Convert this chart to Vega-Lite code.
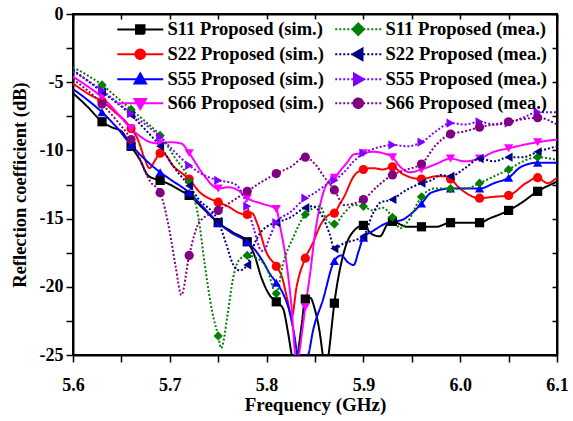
{
  "$schema": "https://vega.github.io/schema/vega-lite/v6.json",
  "width": 484,
  "height": 341,
  "autosize": {"type": "none"},
  "padding": {"left": 73, "top": 14, "right": 16, "bottom": 66},
  "background": "white",
  "data": {"values": [
    {"s":"S11 Proposed (sim.)","f":5.600,"v":-5.8,"mk":0},
    {"s":"S11 Proposed (sim.)","f":5.615,"v":-6.8,"mk":0},
    {"s":"S11 Proposed (sim.)","f":5.630,"v":-7.9,"mk":1},
    {"s":"S11 Proposed (sim.)","f":5.640,"v":-8.3,"mk":0},
    {"s":"S11 Proposed (sim.)","f":5.650,"v":-8.6,"mk":0},
    {"s":"S11 Proposed (sim.)","f":5.660,"v":-9.7,"mk":1},
    {"s":"S11 Proposed (sim.)","f":5.670,"v":-10.8,"mk":0},
    {"s":"S11 Proposed (sim.)","f":5.677,"v":-11.8,"mk":0},
    {"s":"S11 Proposed (sim.)","f":5.685,"v":-12.1,"mk":0},
    {"s":"S11 Proposed (sim.)","f":5.690,"v":-12.2,"mk":1},
    {"s":"S11 Proposed (sim.)","f":5.700,"v":-12.5,"mk":0},
    {"s":"S11 Proposed (sim.)","f":5.710,"v":-12.9,"mk":0},
    {"s":"S11 Proposed (sim.)","f":5.720,"v":-13.3,"mk":1},
    {"s":"S11 Proposed (sim.)","f":5.735,"v":-14.3,"mk":0},
    {"s":"S11 Proposed (sim.)","f":5.750,"v":-15.3,"mk":1},
    {"s":"S11 Proposed (sim.)","f":5.765,"v":-16.0,"mk":0},
    {"s":"S11 Proposed (sim.)","f":5.780,"v":-16.7,"mk":1},
    {"s":"S11 Proposed (sim.)","f":5.787,"v":-17.6,"mk":0},
    {"s":"S11 Proposed (sim.)","f":5.795,"v":-19.4,"mk":0},
    {"s":"S11 Proposed (sim.)","f":5.803,"v":-20.6,"mk":0},
    {"s":"S11 Proposed (sim.)","f":5.810,"v":-21.1,"mk":1},
    {"s":"S11 Proposed (sim.)","f":5.817,"v":-21.6,"mk":0},
    {"s":"S11 Proposed (sim.)","f":5.822,"v":-23.3,"mk":0},
    {"s":"S11 Proposed (sim.)","f":5.826,"v":-25.0,"mk":0},
    {"s":"S11 Proposed (sim.)","f":5.829,"v":-26.0,"mk":0},
    {"s":"S11 Proposed (sim.)","f":5.832,"v":-25.0,"mk":0},
    {"s":"S11 Proposed (sim.)","f":5.836,"v":-22.9,"mk":0},
    {"s":"S11 Proposed (sim.)","f":5.840,"v":-20.9,"mk":1},
    {"s":"S11 Proposed (sim.)","f":5.845,"v":-20.8,"mk":0},
    {"s":"S11 Proposed (sim.)","f":5.850,"v":-21.7,"mk":0},
    {"s":"S11 Proposed (sim.)","f":5.855,"v":-23.4,"mk":0},
    {"s":"S11 Proposed (sim.)","f":5.858,"v":-25.0,"mk":0},
    {"s":"S11 Proposed (sim.)","f":5.861,"v":-26.5,"mk":0},
    {"s":"S11 Proposed (sim.)","f":5.864,"v":-25.0,"mk":0},
    {"s":"S11 Proposed (sim.)","f":5.870,"v":-21.2,"mk":1},
    {"s":"S11 Proposed (sim.)","f":5.879,"v":-17.7,"mk":0},
    {"s":"S11 Proposed (sim.)","f":5.886,"v":-16.3,"mk":0},
    {"s":"S11 Proposed (sim.)","f":5.900,"v":-15.5,"mk":1},
    {"s":"S11 Proposed (sim.)","f":5.908,"v":-16.1,"mk":0},
    {"s":"S11 Proposed (sim.)","f":5.917,"v":-16.3,"mk":0},
    {"s":"S11 Proposed (sim.)","f":5.925,"v":-15.4,"mk":0},
    {"s":"S11 Proposed (sim.)","f":5.930,"v":-15.2,"mk":1},
    {"s":"S11 Proposed (sim.)","f":5.945,"v":-15.6,"mk":0},
    {"s":"S11 Proposed (sim.)","f":5.960,"v":-15.6,"mk":1},
    {"s":"S11 Proposed (sim.)","f":5.975,"v":-15.6,"mk":0},
    {"s":"S11 Proposed (sim.)","f":5.990,"v":-15.3,"mk":1},
    {"s":"S11 Proposed (sim.)","f":6.005,"v":-15.3,"mk":0},
    {"s":"S11 Proposed (sim.)","f":6.020,"v":-15.3,"mk":1},
    {"s":"S11 Proposed (sim.)","f":6.030,"v":-15.0,"mk":0},
    {"s":"S11 Proposed (sim.)","f":6.050,"v":-14.4,"mk":1},
    {"s":"S11 Proposed (sim.)","f":6.062,"v":-13.9,"mk":0},
    {"s":"S11 Proposed (sim.)","f":6.080,"v":-13.0,"mk":1},
    {"s":"S11 Proposed (sim.)","f":6.100,"v":-12.3,"mk":0},

    {"s":"S22 Proposed (sim.)","f":5.600,"v":-5.1,"mk":0},
    {"s":"S22 Proposed (sim.)","f":5.617,"v":-5.9,"mk":0},
    {"s":"S22 Proposed (sim.)","f":5.630,"v":-6.4,"mk":1},
    {"s":"S22 Proposed (sim.)","f":5.645,"v":-7.3,"mk":0},
    {"s":"S22 Proposed (sim.)","f":5.657,"v":-8.1,"mk":0},
    {"s":"S22 Proposed (sim.)","f":5.660,"v":-8.4,"mk":1},
    {"s":"S22 Proposed (sim.)","f":5.667,"v":-9.2,"mk":0},
    {"s":"S22 Proposed (sim.)","f":5.674,"v":-10.6,"mk":0},
    {"s":"S22 Proposed (sim.)","f":5.679,"v":-11.3,"mk":0},
    {"s":"S22 Proposed (sim.)","f":5.685,"v":-10.7,"mk":0},
    {"s":"S22 Proposed (sim.)","f":5.690,"v":-10.2,"mk":1},
    {"s":"S22 Proposed (sim.)","f":5.695,"v":-10.3,"mk":0},
    {"s":"S22 Proposed (sim.)","f":5.703,"v":-11.1,"mk":0},
    {"s":"S22 Proposed (sim.)","f":5.713,"v":-11.7,"mk":0},
    {"s":"S22 Proposed (sim.)","f":5.720,"v":-12.1,"mk":1},
    {"s":"S22 Proposed (sim.)","f":5.730,"v":-13.0,"mk":0},
    {"s":"S22 Proposed (sim.)","f":5.750,"v":-13.8,"mk":1},
    {"s":"S22 Proposed (sim.)","f":5.760,"v":-14.1,"mk":0},
    {"s":"S22 Proposed (sim.)","f":5.772,"v":-14.6,"mk":0},
    {"s":"S22 Proposed (sim.)","f":5.780,"v":-14.7,"mk":1},
    {"s":"S22 Proposed (sim.)","f":5.785,"v":-14.6,"mk":0},
    {"s":"S22 Proposed (sim.)","f":5.790,"v":-15.3,"mk":0},
    {"s":"S22 Proposed (sim.)","f":5.800,"v":-17.5,"mk":0},
    {"s":"S22 Proposed (sim.)","f":5.810,"v":-18.5,"mk":1},
    {"s":"S22 Proposed (sim.)","f":5.816,"v":-19.3,"mk":0},
    {"s":"S22 Proposed (sim.)","f":5.821,"v":-20.8,"mk":0},
    {"s":"S22 Proposed (sim.)","f":5.826,"v":-22.2,"mk":0},
    {"s":"S22 Proposed (sim.)","f":5.831,"v":-20.0,"mk":0},
    {"s":"S22 Proposed (sim.)","f":5.840,"v":-17.9,"mk":1},
    {"s":"S22 Proposed (sim.)","f":5.847,"v":-16.9,"mk":0},
    {"s":"S22 Proposed (sim.)","f":5.857,"v":-15.3,"mk":0},
    {"s":"S22 Proposed (sim.)","f":5.865,"v":-14.7,"mk":0},
    {"s":"S22 Proposed (sim.)","f":5.870,"v":-14.6,"mk":1},
    {"s":"S22 Proposed (sim.)","f":5.875,"v":-14.0,"mk":0},
    {"s":"S22 Proposed (sim.)","f":5.880,"v":-13.4,"mk":0},
    {"s":"S22 Proposed (sim.)","f":5.890,"v":-11.9,"mk":0},
    {"s":"S22 Proposed (sim.)","f":5.900,"v":-11.4,"mk":1},
    {"s":"S22 Proposed (sim.)","f":5.910,"v":-11.3,"mk":0},
    {"s":"S22 Proposed (sim.)","f":5.920,"v":-11.4,"mk":0},
    {"s":"S22 Proposed (sim.)","f":5.930,"v":-11.2,"mk":1},
    {"s":"S22 Proposed (sim.)","f":5.940,"v":-11.7,"mk":0},
    {"s":"S22 Proposed (sim.)","f":5.950,"v":-12.0,"mk":0},
    {"s":"S22 Proposed (sim.)","f":5.960,"v":-12.1,"mk":1},
    {"s":"S22 Proposed (sim.)","f":5.975,"v":-11.9,"mk":0},
    {"s":"S22 Proposed (sim.)","f":5.985,"v":-11.9,"mk":0},
    {"s":"S22 Proposed (sim.)","f":5.990,"v":-12.1,"mk":1},
    {"s":"S22 Proposed (sim.)","f":6.000,"v":-12.8,"mk":0},
    {"s":"S22 Proposed (sim.)","f":6.020,"v":-13.5,"mk":1},
    {"s":"S22 Proposed (sim.)","f":6.035,"v":-13.4,"mk":0},
    {"s":"S22 Proposed (sim.)","f":6.050,"v":-13.3,"mk":1},
    {"s":"S22 Proposed (sim.)","f":6.068,"v":-12.4,"mk":0},
    {"s":"S22 Proposed (sim.)","f":6.080,"v":-12.0,"mk":1},
    {"s":"S22 Proposed (sim.)","f":6.090,"v":-12.4,"mk":0},
    {"s":"S22 Proposed (sim.)","f":6.100,"v":-12.0,"mk":0},

    {"s":"S55 Proposed (sim.)","f":5.600,"v":-5.5,"mk":0},
    {"s":"S55 Proposed (sim.)","f":5.615,"v":-6.3,"mk":0},
    {"s":"S55 Proposed (sim.)","f":5.630,"v":-7.2,"mk":1},
    {"s":"S55 Proposed (sim.)","f":5.645,"v":-8.3,"mk":0},
    {"s":"S55 Proposed (sim.)","f":5.660,"v":-9.6,"mk":1},
    {"s":"S55 Proposed (sim.)","f":5.675,"v":-10.7,"mk":0},
    {"s":"S55 Proposed (sim.)","f":5.690,"v":-11.6,"mk":1},
    {"s":"S55 Proposed (sim.)","f":5.700,"v":-12.1,"mk":0},
    {"s":"S55 Proposed (sim.)","f":5.720,"v":-13.1,"mk":1},
    {"s":"S55 Proposed (sim.)","f":5.735,"v":-14.2,"mk":0},
    {"s":"S55 Proposed (sim.)","f":5.750,"v":-15.3,"mk":1},
    {"s":"S55 Proposed (sim.)","f":5.765,"v":-16.1,"mk":0},
    {"s":"S55 Proposed (sim.)","f":5.780,"v":-16.7,"mk":1},
    {"s":"S55 Proposed (sim.)","f":5.795,"v":-18.0,"mk":0},
    {"s":"S55 Proposed (sim.)","f":5.803,"v":-19.0,"mk":0},
    {"s":"S55 Proposed (sim.)","f":5.810,"v":-19.7,"mk":1},
    {"s":"S55 Proposed (sim.)","f":5.817,"v":-20.5,"mk":0},
    {"s":"S55 Proposed (sim.)","f":5.824,"v":-21.9,"mk":0},
    {"s":"S55 Proposed (sim.)","f":5.829,"v":-23.7,"mk":0},
    {"s":"S55 Proposed (sim.)","f":5.832,"v":-25.0,"mk":0},
    {"s":"S55 Proposed (sim.)","f":5.838,"v":-25.5,"mk":0},
    {"s":"S55 Proposed (sim.)","f":5.843,"v":-25.0,"mk":0},
    {"s":"S55 Proposed (sim.)","f":5.848,"v":-23.2,"mk":0},
    {"s":"S55 Proposed (sim.)","f":5.858,"v":-21.0,"mk":0},
    {"s":"S55 Proposed (sim.)","f":5.870,"v":-18.1,"mk":1},
    {"s":"S55 Proposed (sim.)","f":5.877,"v":-17.7,"mk":0},
    {"s":"S55 Proposed (sim.)","f":5.884,"v":-18.2,"mk":0},
    {"s":"S55 Proposed (sim.)","f":5.890,"v":-18.4,"mk":0},
    {"s":"S55 Proposed (sim.)","f":5.895,"v":-17.4,"mk":0},
    {"s":"S55 Proposed (sim.)","f":5.900,"v":-16.4,"mk":1},
    {"s":"S55 Proposed (sim.)","f":5.910,"v":-15.9,"mk":0},
    {"s":"S55 Proposed (sim.)","f":5.925,"v":-15.3,"mk":0},
    {"s":"S55 Proposed (sim.)","f":5.940,"v":-15.1,"mk":0},
    {"s":"S55 Proposed (sim.)","f":5.950,"v":-14.6,"mk":0},
    {"s":"S55 Proposed (sim.)","f":5.960,"v":-13.9,"mk":1},
    {"s":"S55 Proposed (sim.)","f":5.970,"v":-13.1,"mk":0},
    {"s":"S55 Proposed (sim.)","f":5.990,"v":-12.8,"mk":1},
    {"s":"S55 Proposed (sim.)","f":6.005,"v":-12.8,"mk":0},
    {"s":"S55 Proposed (sim.)","f":6.020,"v":-12.8,"mk":1},
    {"s":"S55 Proposed (sim.)","f":6.035,"v":-12.4,"mk":0},
    {"s":"S55 Proposed (sim.)","f":6.050,"v":-12.0,"mk":1},
    {"s":"S55 Proposed (sim.)","f":6.063,"v":-11.2,"mk":0},
    {"s":"S55 Proposed (sim.)","f":6.080,"v":-10.9,"mk":1},
    {"s":"S55 Proposed (sim.)","f":6.100,"v":-10.9,"mk":0},

    {"s":"S66 Proposed (sim.)","f":5.600,"v":-4.6,"mk":0},
    {"s":"S66 Proposed (sim.)","f":5.615,"v":-5.3,"mk":0},
    {"s":"S66 Proposed (sim.)","f":5.630,"v":-6.1,"mk":1},
    {"s":"S66 Proposed (sim.)","f":5.645,"v":-7.2,"mk":0},
    {"s":"S66 Proposed (sim.)","f":5.660,"v":-8.4,"mk":1},
    {"s":"S66 Proposed (sim.)","f":5.672,"v":-9.1,"mk":0},
    {"s":"S66 Proposed (sim.)","f":5.680,"v":-9.4,"mk":0},
    {"s":"S66 Proposed (sim.)","f":5.690,"v":-9.5,"mk":1},
    {"s":"S66 Proposed (sim.)","f":5.700,"v":-9.4,"mk":0},
    {"s":"S66 Proposed (sim.)","f":5.712,"v":-9.5,"mk":0},
    {"s":"S66 Proposed (sim.)","f":5.720,"v":-10.2,"mk":1},
    {"s":"S66 Proposed (sim.)","f":5.735,"v":-11.8,"mk":0},
    {"s":"S66 Proposed (sim.)","f":5.750,"v":-12.8,"mk":1},
    {"s":"S66 Proposed (sim.)","f":5.760,"v":-12.7,"mk":0},
    {"s":"S66 Proposed (sim.)","f":5.770,"v":-12.9,"mk":0},
    {"s":"S66 Proposed (sim.)","f":5.780,"v":-13.5,"mk":1},
    {"s":"S66 Proposed (sim.)","f":5.795,"v":-13.9,"mk":0},
    {"s":"S66 Proposed (sim.)","f":5.810,"v":-14.3,"mk":1},
    {"s":"S66 Proposed (sim.)","f":5.814,"v":-15.6,"mk":0},
    {"s":"S66 Proposed (sim.)","f":5.821,"v":-18.5,"mk":0},
    {"s":"S66 Proposed (sim.)","f":5.826,"v":-21.7,"mk":0},
    {"s":"S66 Proposed (sim.)","f":5.8295,"v":-25.0,"mk":0},
    {"s":"S66 Proposed (sim.)","f":5.8315,"v":-26.0,"mk":0},
    {"s":"S66 Proposed (sim.)","f":5.8335,"v":-25.0,"mk":0},
    {"s":"S66 Proposed (sim.)","f":5.840,"v":-21.5,"mk":1},
    {"s":"S66 Proposed (sim.)","f":5.845,"v":-19.0,"mk":0},
    {"s":"S66 Proposed (sim.)","f":5.850,"v":-16.1,"mk":0},
    {"s":"S66 Proposed (sim.)","f":5.855,"v":-14.1,"mk":0},
    {"s":"S66 Proposed (sim.)","f":5.860,"v":-12.8,"mk":0},
    {"s":"S66 Proposed (sim.)","f":5.865,"v":-12.2,"mk":0},
    {"s":"S66 Proposed (sim.)","f":5.870,"v":-12.0,"mk":1},
    {"s":"S66 Proposed (sim.)","f":5.876,"v":-11.5,"mk":0},
    {"s":"S66 Proposed (sim.)","f":5.883,"v":-10.9,"mk":0},
    {"s":"S66 Proposed (sim.)","f":5.890,"v":-10.3,"mk":0},
    {"s":"S66 Proposed (sim.)","f":5.900,"v":-10.2,"mk":1},
    {"s":"S66 Proposed (sim.)","f":5.910,"v":-10.1,"mk":0},
    {"s":"S66 Proposed (sim.)","f":5.920,"v":-10.2,"mk":0},
    {"s":"S66 Proposed (sim.)","f":5.930,"v":-10.5,"mk":1},
    {"s":"S66 Proposed (sim.)","f":5.938,"v":-11.2,"mk":0},
    {"s":"S66 Proposed (sim.)","f":5.948,"v":-11.6,"mk":0},
    {"s":"S66 Proposed (sim.)","f":5.960,"v":-11.4,"mk":1},
    {"s":"S66 Proposed (sim.)","f":5.975,"v":-11.0,"mk":0},
    {"s":"S66 Proposed (sim.)","f":5.990,"v":-10.6,"mk":1},
    {"s":"S66 Proposed (sim.)","f":6.005,"v":-10.8,"mk":0},
    {"s":"S66 Proposed (sim.)","f":6.020,"v":-10.6,"mk":1},
    {"s":"S66 Proposed (sim.)","f":6.035,"v":-10.1,"mk":0},
    {"s":"S66 Proposed (sim.)","f":6.050,"v":-9.85,"mk":1},
    {"s":"S66 Proposed (sim.)","f":6.065,"v":-9.6,"mk":0},
    {"s":"S66 Proposed (sim.)","f":6.080,"v":-9.4,"mk":1},
    {"s":"S66 Proposed (sim.)","f":6.100,"v":-9.2,"mk":0},

    {"s":"S11 Proposed (mea.)","f":5.600,"v":-3.9,"mk":0},
    {"s":"S11 Proposed (mea.)","f":5.615,"v":-4.5,"mk":0},
    {"s":"S11 Proposed (mea.)","f":5.630,"v":-5.2,"mk":1},
    {"s":"S11 Proposed (mea.)","f":5.645,"v":-6.1,"mk":0},
    {"s":"S11 Proposed (mea.)","f":5.660,"v":-7.0,"mk":1},
    {"s":"S11 Proposed (mea.)","f":5.675,"v":-7.9,"mk":0},
    {"s":"S11 Proposed (mea.)","f":5.690,"v":-8.9,"mk":1},
    {"s":"S11 Proposed (mea.)","f":5.705,"v":-10.5,"mk":0},
    {"s":"S11 Proposed (mea.)","f":5.720,"v":-12.3,"mk":1},
    {"s":"S11 Proposed (mea.)","f":5.730,"v":-15.1,"mk":0},
    {"s":"S11 Proposed (mea.)","f":5.736,"v":-18.3,"mk":0},
    {"s":"S11 Proposed (mea.)","f":5.744,"v":-21.9,"mk":0},
    {"s":"S11 Proposed (mea.)","f":5.750,"v":-23.6,"mk":1},
    {"s":"S11 Proposed (mea.)","f":5.753,"v":-24.5,"mk":0},
    {"s":"S11 Proposed (mea.)","f":5.760,"v":-21.9,"mk":0},
    {"s":"S11 Proposed (mea.)","f":5.765,"v":-19.5,"mk":0},
    {"s":"S11 Proposed (mea.)","f":5.772,"v":-18.0,"mk":0},
    {"s":"S11 Proposed (mea.)","f":5.780,"v":-17.7,"mk":1},
    {"s":"S11 Proposed (mea.)","f":5.790,"v":-17.9,"mk":0},
    {"s":"S11 Proposed (mea.)","f":5.800,"v":-18.6,"mk":0},
    {"s":"S11 Proposed (mea.)","f":5.810,"v":-20.5,"mk":1},
    {"s":"S11 Proposed (mea.)","f":5.817,"v":-18.3,"mk":0},
    {"s":"S11 Proposed (mea.)","f":5.828,"v":-16.3,"mk":0},
    {"s":"S11 Proposed (mea.)","f":5.840,"v":-14.7,"mk":1},
    {"s":"S11 Proposed (mea.)","f":5.855,"v":-14.1,"mk":0},
    {"s":"S11 Proposed (mea.)","f":5.862,"v":-15.1,"mk":0},
    {"s":"S11 Proposed (mea.)","f":5.870,"v":-15.4,"mk":1},
    {"s":"S11 Proposed (mea.)","f":5.880,"v":-14.6,"mk":0},
    {"s":"S11 Proposed (mea.)","f":5.890,"v":-14.0,"mk":0},
    {"s":"S11 Proposed (mea.)","f":5.900,"v":-14.1,"mk":1},
    {"s":"S11 Proposed (mea.)","f":5.910,"v":-14.4,"mk":0},
    {"s":"S11 Proposed (mea.)","f":5.920,"v":-14.2,"mk":0},
    {"s":"S11 Proposed (mea.)","f":5.930,"v":-14.9,"mk":1},
    {"s":"S11 Proposed (mea.)","f":5.938,"v":-15.7,"mk":0},
    {"s":"S11 Proposed (mea.)","f":5.945,"v":-15.3,"mk":0},
    {"s":"S11 Proposed (mea.)","f":5.960,"v":-13.4,"mk":1},
    {"s":"S11 Proposed (mea.)","f":5.973,"v":-12.8,"mk":0},
    {"s":"S11 Proposed (mea.)","f":5.990,"v":-12.8,"mk":1},
    {"s":"S11 Proposed (mea.)","f":6.005,"v":-12.8,"mk":0},
    {"s":"S11 Proposed (mea.)","f":6.020,"v":-12.4,"mk":1},
    {"s":"S11 Proposed (mea.)","f":6.035,"v":-11.9,"mk":0},
    {"s":"S11 Proposed (mea.)","f":6.050,"v":-11.4,"mk":1},
    {"s":"S11 Proposed (mea.)","f":6.065,"v":-10.8,"mk":0},
    {"s":"S11 Proposed (mea.)","f":6.080,"v":-10.5,"mk":1},
    {"s":"S11 Proposed (mea.)","f":6.100,"v":-10.7,"mk":0},

    {"s":"S22 Proposed (mea.)","f":5.600,"v":-4.1,"mk":0},
    {"s":"S22 Proposed (mea.)","f":5.630,"v":-5.7,"mk":1},
    {"s":"S22 Proposed (mea.)","f":5.660,"v":-7.4,"mk":1},
    {"s":"S22 Proposed (mea.)","f":5.675,"v":-8.5,"mk":0},
    {"s":"S22 Proposed (mea.)","f":5.690,"v":-9.7,"mk":1},
    {"s":"S22 Proposed (mea.)","f":5.705,"v":-11.3,"mk":0},
    {"s":"S22 Proposed (mea.)","f":5.720,"v":-12.6,"mk":1},
    {"s":"S22 Proposed (mea.)","f":5.730,"v":-13.6,"mk":0},
    {"s":"S22 Proposed (mea.)","f":5.750,"v":-15.2,"mk":1},
    {"s":"S22 Proposed (mea.)","f":5.758,"v":-16.8,"mk":0},
    {"s":"S22 Proposed (mea.)","f":5.765,"v":-18.3,"mk":0},
    {"s":"S22 Proposed (mea.)","f":5.772,"v":-18.8,"mk":0},
    {"s":"S22 Proposed (mea.)","f":5.780,"v":-18.4,"mk":1},
    {"s":"S22 Proposed (mea.)","f":5.786,"v":-17.1,"mk":0},
    {"s":"S22 Proposed (mea.)","f":5.793,"v":-16.1,"mk":0},
    {"s":"S22 Proposed (mea.)","f":5.800,"v":-15.6,"mk":0},
    {"s":"S22 Proposed (mea.)","f":5.810,"v":-15.3,"mk":1},
    {"s":"S22 Proposed (mea.)","f":5.825,"v":-14.9,"mk":0},
    {"s":"S22 Proposed (mea.)","f":5.840,"v":-14.2,"mk":1},
    {"s":"S22 Proposed (mea.)","f":5.848,"v":-14.1,"mk":0},
    {"s":"S22 Proposed (mea.)","f":5.858,"v":-14.9,"mk":0},
    {"s":"S22 Proposed (mea.)","f":5.865,"v":-16.1,"mk":0},
    {"s":"S22 Proposed (mea.)","f":5.870,"v":-17.2,"mk":1},
    {"s":"S22 Proposed (mea.)","f":5.880,"v":-16.8,"mk":0},
    {"s":"S22 Proposed (mea.)","f":5.890,"v":-16.6,"mk":0},
    {"s":"S22 Proposed (mea.)","f":5.900,"v":-16.3,"mk":1},
    {"s":"S22 Proposed (mea.)","f":5.910,"v":-14.6,"mk":0},
    {"s":"S22 Proposed (mea.)","f":5.918,"v":-13.8,"mk":0},
    {"s":"S22 Proposed (mea.)","f":5.930,"v":-13.6,"mk":1},
    {"s":"S22 Proposed (mea.)","f":5.940,"v":-13.1,"mk":0},
    {"s":"S22 Proposed (mea.)","f":5.950,"v":-12.7,"mk":0},
    {"s":"S22 Proposed (mea.)","f":5.960,"v":-12.4,"mk":1},
    {"s":"S22 Proposed (mea.)","f":5.970,"v":-12.2,"mk":0},
    {"s":"S22 Proposed (mea.)","f":5.980,"v":-11.8,"mk":0},
    {"s":"S22 Proposed (mea.)","f":5.990,"v":-11.9,"mk":1},
    {"s":"S22 Proposed (mea.)","f":6.005,"v":-11.3,"mk":0},
    {"s":"S22 Proposed (mea.)","f":6.020,"v":-10.6,"mk":1},
    {"s":"S22 Proposed (mea.)","f":6.035,"v":-10.8,"mk":0},
    {"s":"S22 Proposed (mea.)","f":6.050,"v":-10.5,"mk":1},
    {"s":"S22 Proposed (mea.)","f":6.065,"v":-10.5,"mk":0},
    {"s":"S22 Proposed (mea.)","f":6.080,"v":-10.1,"mk":1},
    {"s":"S22 Proposed (mea.)","f":6.100,"v":-9.7,"mk":0},

    {"s":"S55 Proposed (mea.)","f":5.600,"v":-4.2,"mk":0},
    {"s":"S55 Proposed (mea.)","f":5.630,"v":-5.6,"mk":1},
    {"s":"S55 Proposed (mea.)","f":5.660,"v":-7.3,"mk":1},
    {"s":"S55 Proposed (mea.)","f":5.690,"v":-9.0,"mk":1},
    {"s":"S55 Proposed (mea.)","f":5.705,"v":-10.1,"mk":0},
    {"s":"S55 Proposed (mea.)","f":5.720,"v":-11.1,"mk":1},
    {"s":"S55 Proposed (mea.)","f":5.735,"v":-11.8,"mk":0},
    {"s":"S55 Proposed (mea.)","f":5.750,"v":-12.2,"mk":1},
    {"s":"S55 Proposed (mea.)","f":5.765,"v":-12.4,"mk":0},
    {"s":"S55 Proposed (mea.)","f":5.772,"v":-12.8,"mk":0},
    {"s":"S55 Proposed (mea.)","f":5.780,"v":-14.1,"mk":1},
    {"s":"S55 Proposed (mea.)","f":5.787,"v":-15.8,"mk":0},
    {"s":"S55 Proposed (mea.)","f":5.794,"v":-17.3,"mk":0},
    {"s":"S55 Proposed (mea.)","f":5.797,"v":-17.4,"mk":0},
    {"s":"S55 Proposed (mea.)","f":5.803,"v":-16.4,"mk":0},
    {"s":"S55 Proposed (mea.)","f":5.810,"v":-15.3,"mk":1},
    {"s":"S55 Proposed (mea.)","f":5.825,"v":-14.5,"mk":0},
    {"s":"S55 Proposed (mea.)","f":5.840,"v":-13.5,"mk":1},
    {"s":"S55 Proposed (mea.)","f":5.850,"v":-13.1,"mk":0},
    {"s":"S55 Proposed (mea.)","f":5.860,"v":-12.6,"mk":0},
    {"s":"S55 Proposed (mea.)","f":5.870,"v":-12.2,"mk":1},
    {"s":"S55 Proposed (mea.)","f":5.880,"v":-11.6,"mk":0},
    {"s":"S55 Proposed (mea.)","f":5.890,"v":-10.8,"mk":0},
    {"s":"S55 Proposed (mea.)","f":5.900,"v":-10.2,"mk":1},
    {"s":"S55 Proposed (mea.)","f":5.910,"v":-9.9,"mk":0},
    {"s":"S55 Proposed (mea.)","f":5.920,"v":-9.7,"mk":0},
    {"s":"S55 Proposed (mea.)","f":5.930,"v":-9.6,"mk":1},
    {"s":"S55 Proposed (mea.)","f":5.945,"v":-9.7,"mk":0},
    {"s":"S55 Proposed (mea.)","f":5.960,"v":-9.4,"mk":1},
    {"s":"S55 Proposed (mea.)","f":5.975,"v":-8.6,"mk":0},
    {"s":"S55 Proposed (mea.)","f":5.990,"v":-8.0,"mk":1},
    {"s":"S55 Proposed (mea.)","f":6.005,"v":-8.1,"mk":0},
    {"s":"S55 Proposed (mea.)","f":6.020,"v":-7.9,"mk":1},
    {"s":"S55 Proposed (mea.)","f":6.035,"v":-8.1,"mk":0},
    {"s":"S55 Proposed (mea.)","f":6.050,"v":-8.0,"mk":1},
    {"s":"S55 Proposed (mea.)","f":6.065,"v":-7.6,"mk":0},
    {"s":"S55 Proposed (mea.)","f":6.080,"v":-7.2,"mk":1},
    {"s":"S55 Proposed (mea.)","f":6.100,"v":-7.2,"mk":0},

    {"s":"S66 Proposed (mea.)","f":5.600,"v":-4.8,"mk":0},
    {"s":"S66 Proposed (mea.)","f":5.615,"v":-5.6,"mk":0},
    {"s":"S66 Proposed (mea.)","f":5.630,"v":-6.6,"mk":1},
    {"s":"S66 Proposed (mea.)","f":5.645,"v":-7.8,"mk":0},
    {"s":"S66 Proposed (mea.)","f":5.660,"v":-9.2,"mk":1},
    {"s":"S66 Proposed (mea.)","f":5.680,"v":-12.3,"mk":0},
    {"s":"S66 Proposed (mea.)","f":5.690,"v":-13.1,"mk":1},
    {"s":"S66 Proposed (mea.)","f":5.700,"v":-16.0,"mk":0},
    {"s":"S66 Proposed (mea.)","f":5.706,"v":-18.5,"mk":0},
    {"s":"S66 Proposed (mea.)","f":5.712,"v":-20.6,"mk":0},
    {"s":"S66 Proposed (mea.)","f":5.720,"v":-17.7,"mk":1},
    {"s":"S66 Proposed (mea.)","f":5.731,"v":-15.2,"mk":0},
    {"s":"S66 Proposed (mea.)","f":5.750,"v":-14.4,"mk":1},
    {"s":"S66 Proposed (mea.)","f":5.765,"v":-13.7,"mk":0},
    {"s":"S66 Proposed (mea.)","f":5.780,"v":-13.0,"mk":1},
    {"s":"S66 Proposed (mea.)","f":5.795,"v":-12.3,"mk":0},
    {"s":"S66 Proposed (mea.)","f":5.810,"v":-11.7,"mk":1},
    {"s":"S66 Proposed (mea.)","f":5.825,"v":-11.2,"mk":0},
    {"s":"S66 Proposed (mea.)","f":5.840,"v":-10.5,"mk":1},
    {"s":"S66 Proposed (mea.)","f":5.850,"v":-11.0,"mk":0},
    {"s":"S66 Proposed (mea.)","f":5.860,"v":-12.0,"mk":0},
    {"s":"S66 Proposed (mea.)","f":5.870,"v":-12.9,"mk":1},
    {"s":"S66 Proposed (mea.)","f":5.880,"v":-14.0,"mk":0},
    {"s":"S66 Proposed (mea.)","f":5.890,"v":-13.9,"mk":0},
    {"s":"S66 Proposed (mea.)","f":5.900,"v":-13.6,"mk":1},
    {"s":"S66 Proposed (mea.)","f":5.915,"v":-12.6,"mk":0},
    {"s":"S66 Proposed (mea.)","f":5.930,"v":-11.8,"mk":1},
    {"s":"S66 Proposed (mea.)","f":5.945,"v":-11.4,"mk":0},
    {"s":"S66 Proposed (mea.)","f":5.960,"v":-11.0,"mk":1},
    {"s":"S66 Proposed (mea.)","f":5.975,"v":-9.6,"mk":0},
    {"s":"S66 Proposed (mea.)","f":5.990,"v":-8.8,"mk":1},
    {"s":"S66 Proposed (mea.)","f":6.005,"v":-8.6,"mk":0},
    {"s":"S66 Proposed (mea.)","f":6.020,"v":-8.3,"mk":1},
    {"s":"S66 Proposed (mea.)","f":6.035,"v":-8.1,"mk":0},
    {"s":"S66 Proposed (mea.)","f":6.050,"v":-7.9,"mk":1},
    {"s":"S66 Proposed (mea.)","f":6.065,"v":-7.7,"mk":0},
    {"s":"S66 Proposed (mea.)","f":6.080,"v":-7.6,"mk":1},
    {"s":"S66 Proposed (mea.)","f":6.100,"v":-8.1,"mk":0}
  ]},
  "encoding": {
    "color": {
      "field": "s", "type": "nominal",
      "scale": {
        "domain": ["S11 Proposed (sim.)","S22 Proposed (sim.)","S55 Proposed (sim.)","S66 Proposed (sim.)","S11 Proposed (mea.)","S22 Proposed (mea.)","S55 Proposed (mea.)","S66 Proposed (mea.)"],
        "range": ["#000000","#FF0000","#0000FF","#FF00FF","#008000","#000080","#8000FF","#800080"]
      },
      "legend": {
        "orient": "none", "legendX": 58, "legendY": 6, "columns": 2, "columnPadding": 7, "rowPadding": 5,
        "title": null, "padding": 0, "symbolSize": 100, "labelOffset": 18,
        "labelFont": "Liberation Serif", "labelFontWeight": "bold", "labelFontSize": 18.5, "labelColor": "black", "labelLimit": 400,
        "encode": {"symbols": {"update": {
          "shape": {"signal": "(indexof(datum.value,'mea')>=0 ? 'M-4.6,0h0.4M-3.8,0h0.4M-3,0h0.4M-2.2,0h0.4M-1.4,0h0.4M1,0h0.4M1.8,0h0.4M2.6,0h0.4M3.4,0h0.4M4.2,0h0.4' : 'M-4.6,0H4.6') + (datum.value=='S11 Proposed (sim.)' ? 'M-0.85,-0.85H0.85V0.85H-0.85Z' : datum.value=='S11 Proposed (mea.)' ? 'M0,-1.15L1.15,0L0,1.15L-1.15,0Z' : (datum.value=='S22 Proposed (sim.)' || datum.value=='S66 Proposed (mea.)') ? 'M0.95,0A0.95,0.95,0,1,1,-0.95,0A0.95,0.95,0,1,1,0.95,0Z' : datum.value=='S22 Proposed (mea.)' ? 'M-1.15,0L0.85,-1.15L0.85,1.15Z' : datum.value=='S55 Proposed (sim.)' ? 'M0,-1.15L1.15,0.85L-1.15,0.85Z' : datum.value=='S55 Proposed (mea.)' ? 'M1.15,0L-0.85,-1.15L-0.85,1.15Z' : 'M0,1.15L1.15,-0.85L-1.15,-0.85Z')"},
          "fill": {"scale": "color", "field": "value"},
          "stroke": {"scale": "color", "field": "value"},
          "strokeWidth": {"value": 2},
          "strokeDash": {"value": [1, 0]},
          "opacity": {"value": 1}
        }}}
      }
    }
  },
  "layer": [
    {
      "mark": {"type": "line", "strokeWidth": 2, "clip": true, "interpolate": "monotone"},
      "encoding": {
        "x": {"field": "f", "type": "quantitative",
          "scale": {"domain": [5.6, 6.1], "nice": false, "zero": false},
          "axis": {"orient": "bottom", "values": [5.6,5.65,5.7,5.75,5.8,5.85,5.9,5.95,6.0,6.05,6.1],
            "labelExpr": "abs(datum.value*10 - round(datum.value*10)) < 0.01 ? format(datum.value, '.1f') : ''",
            "tickSize": 7, "labelPadding": 14, "labelFontSize": 18, "labelFlush": false, "labelOverlap": false, "labelBound": false,
            "title": "Frequency (GHz)", "titleFontSize": 19, "titlePadding": 1}},
        "y": {"field": "v", "type": "quantitative",
          "scale": {"domain": [-25, 0], "nice": false, "zero": false},
          "axis": {"orient": "left", "values": [-25,-22.5,-20,-17.5,-15,-12.5,-10,-7.5,-5,-2.5,0],
            "labelExpr": "datum.value % 5 == 0 ? '' + datum.value : ''",
            "tickSize": 7, "labelPadding": 3, "labelFontSize": 18, "labelFlush": false, "labelOverlap": false, "labelBound": false,
            "title": "Reflection coefficient (dB)", "titleFontSize": 18.5, "titlePadding": 10}},
        "strokeDash": {"field": "s", "type": "nominal",
          "scale": {
            "domain": ["S11 Proposed (mea.)","S22 Proposed (mea.)","S55 Proposed (mea.)","S66 Proposed (mea.)","S11 Proposed (sim.)","S22 Proposed (sim.)","S55 Proposed (sim.)","S66 Proposed (sim.)"],
            "range": [[2,2],[2,2],[2,2],[2,2],[1,0],[1,0],[1,0],[1,0]]
          },
          "legend": null}
      }
    },
    {
      "transform": [{"filter": "datum.mk == 1"}],
      "mark": {"type": "point", "filled": true, "opacity": 1, "size": 85},
      "encoding": {
        "x": {"field": "f", "type": "quantitative",
          "scale": {"domain": [5.6, 6.1], "nice": false, "zero": false},
          "axis": {"orient": "top", "values": [5.6,5.65,5.7,5.75,5.8,5.85,5.9,5.95,6.0,6.05,6.1], "labels": false, "tickSize": -5, "title": null}},
        "y": {"field": "v", "type": "quantitative",
          "scale": {"domain": [-25, 0], "nice": false, "zero": false},
          "axis": {"orient": "right", "values": [-25,-22.5,-20,-17.5,-15,-12.5,-10,-7.5,-5,-2.5,0], "labels": false, "tickSize": -5, "title": null}},
        "shape": {"field": "s", "type": "nominal",
          "scale": {
            "domain": ["S11 Proposed (sim.)","S11 Proposed (mea.)","S22 Proposed (sim.)","S22 Proposed (mea.)","S55 Proposed (sim.)","S55 Proposed (mea.)","S66 Proposed (sim.)","S66 Proposed (mea.)"],
            "range": ["square","diamond","circle","triangle-left","triangle-up","triangle-right","triangle-down","circle"]
          },
          "legend": null}
      }
    }
  ],
  "resolve": {"axis": {"x": "independent", "y": "independent"}},
  "config": {
    "view": {"stroke": "black", "strokeWidth": 2},
    "axis": {"grid": false, "domainColor": "black", "domainWidth": 2, "tickColor": "black", "tickWidth": 1.5,
      "labelColor": "black", "titleColor": "black", "labelFont": "Liberation Serif", "titleFont": "Liberation Serif",
      "labelFontWeight": "bold", "titleFontWeight": "bold"}
  }
}
